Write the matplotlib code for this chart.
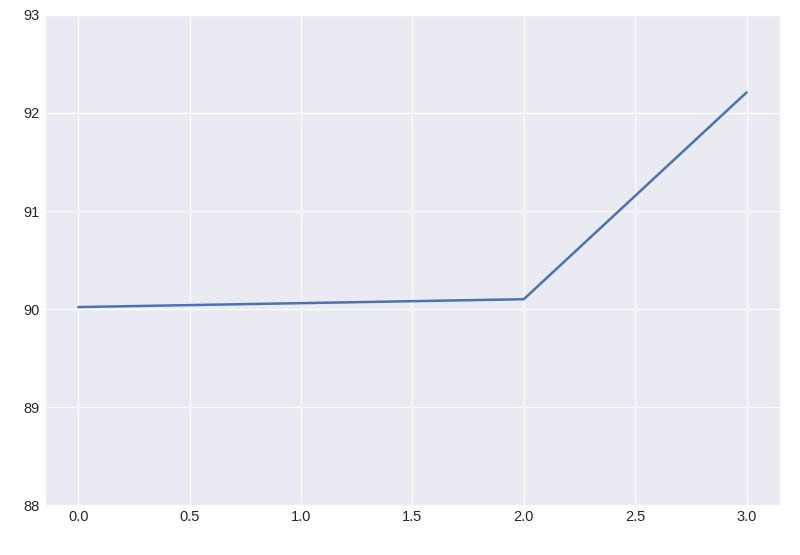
import matplotlib
matplotlib.use("Agg")
import seaborn as sns
from matplotlib import pyplot as plt

x_vals = [0, 1, 2, 3]
y_vals = [90.02, 90.06, 90.10, 92.21]

sns.set_style("darkgrid")
plt.rcParams['font.family'] = ['Liberation Sans', 'DejaVu Sans']

fig = plt.figure(figsize=(8, 5.55), dpi=100)
ax = fig.add_axes([0.056, 0.09, 0.919, 0.883])
ax.plot(x_vals, y_vals, color='#4C72B0', linewidth=1.8)
ax.set_ylim(88, 93)
ax.set_xlim(-0.15, 3.15)
ax.tick_params(axis='both', labelsize=10.5, colors='#262626', length=0)
fig.savefig("out.png", dpi=100)
